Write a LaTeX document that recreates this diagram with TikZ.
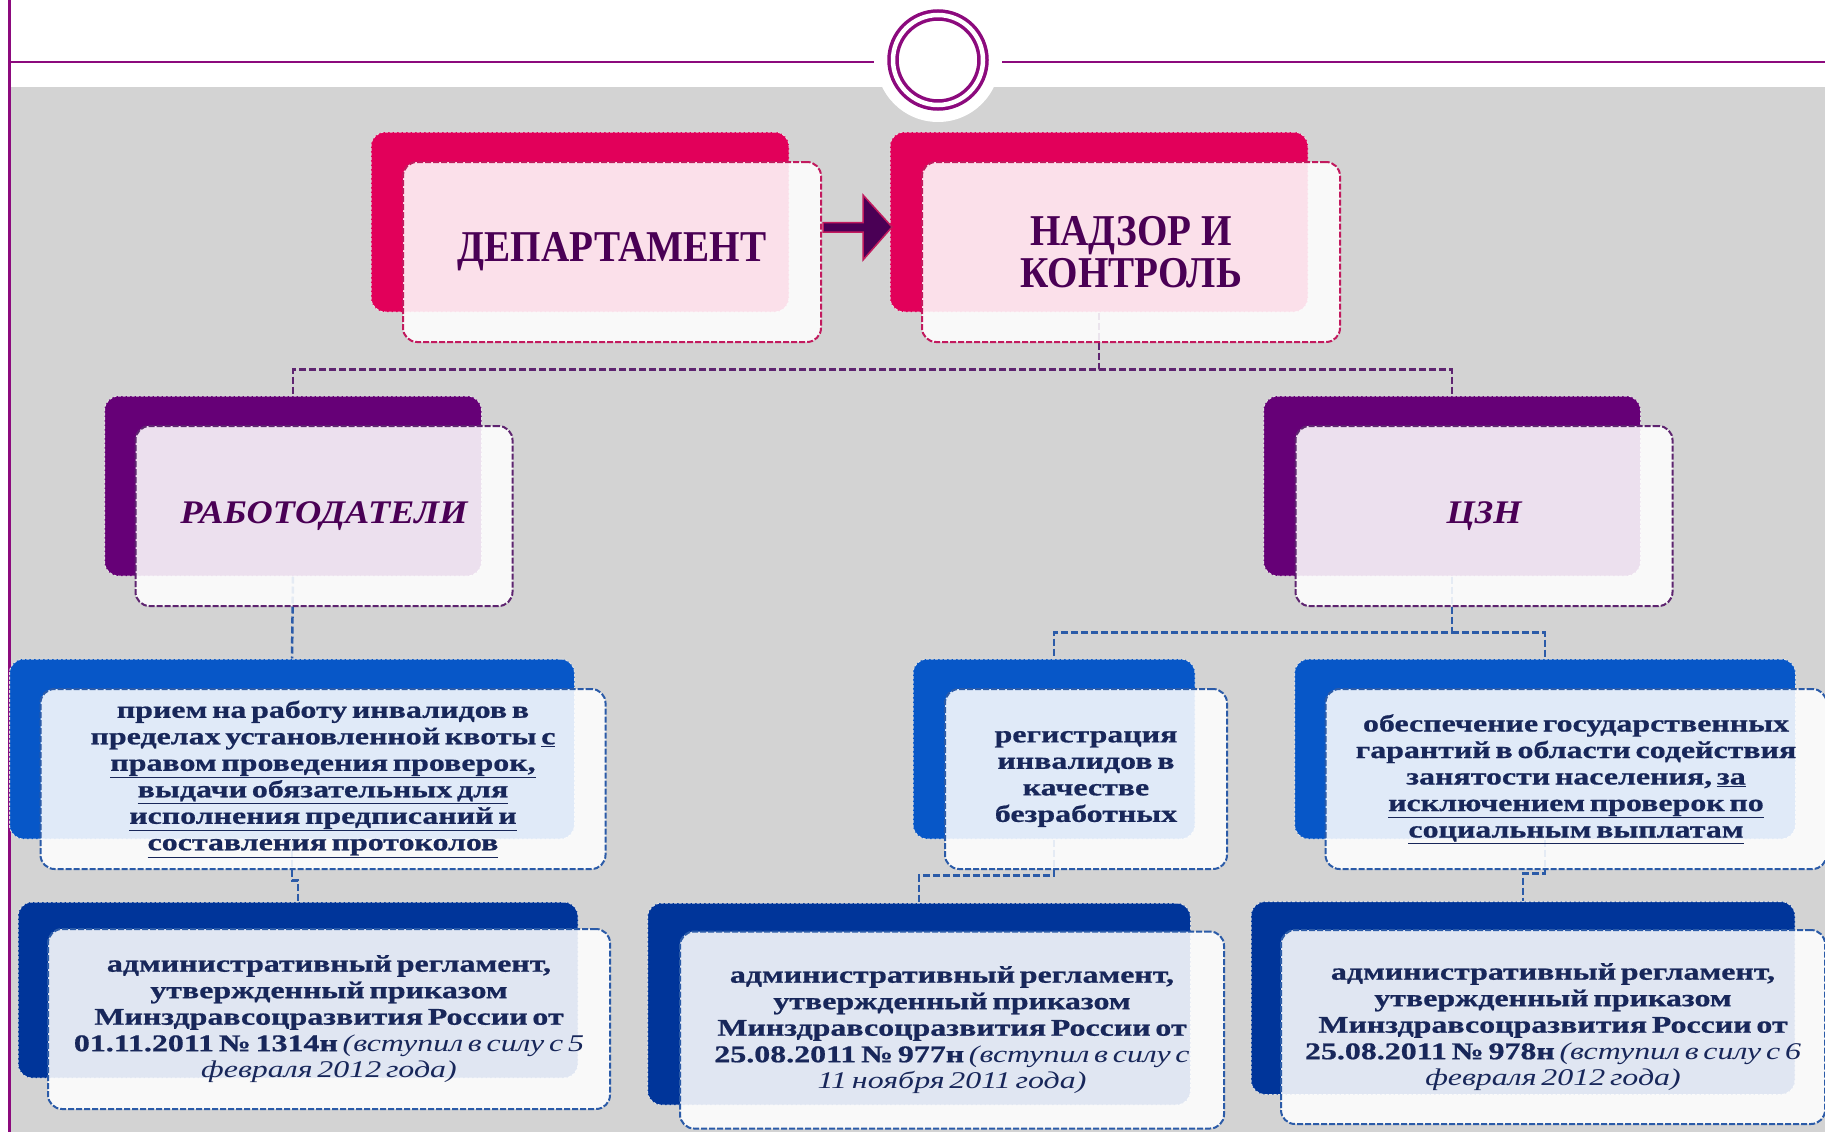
\documentclass[tikz,border=0pt]{standalone}
\usepackage{fontspec}
\setmainfont{Liberation Serif}
\newfontfamily\titlefont[FakeStretch=0.89]{Liberation Serif}
\newfontfamily\subfont[FakeStretch=1.1]{Liberation Serif}
\newfontfamily\bodyfont[FakeStretch=1.33, WordSpace=0.6,
    BoldFeatures={FakeBold=0.8}]{Liberation Serif}
\usetikzlibrary{backgrounds}

\definecolor{bggray}{HTML}{D3D3D3}
\definecolor{framepurple}{HTML}{8C0A7D}
\definecolor{cardred}{HTML}{E2005A}
\definecolor{cardredline}{HTML}{C21A5E}
\definecolor{cardpurple}{HTML}{660077}
\definecolor{cardpurpleline}{HTML}{5E2470}
\definecolor{cardblue}{HTML}{0757C8}
\definecolor{cardnavy}{HTML}{00359A}
\definecolor{cardblueline}{HTML}{2B5BA8}
\definecolor{textpurple}{HTML}{4A0055}
\definecolor{textnavy}{HTML}{18275A}

\begin{document}
\begin{tikzpicture}[
    x=1pt, y=-1pt,
    backcard/.style={rectangle, rounded corners=14pt, draw=white!75!gray,
        dash pattern=on 3pt off 1.5pt, line width=1pt, inner sep=0pt},
    frontcard/.style={rectangle, rounded corners=14pt, fill=white,
        fill opacity=0.88, text opacity=1, dash pattern=on 6pt off 2pt,
        line width=2pt, inner sep=0pt, align=center},
    redback/.style={backcard, fill=cardred, minimum width=418pt, minimum height=180pt},
    redfront/.style={frontcard, draw=cardredline, text=textpurple,
        minimum width=418pt, minimum height=180pt,
        font=\titlefont\bfseries\fontsize{44}{42}\selectfont},
    purpleback/.style={backcard, fill=cardpurple, minimum width=377pt, minimum height=180pt},
    purplefront/.style={frontcard, draw=cardpurpleline, text=textpurple,
        minimum width=377pt, minimum height=180pt,
        font=\subfont\bfseries\itshape\fontsize{33}{36}\selectfont},
    blueback/.style={backcard, fill=cardblue, minimum height=180pt},
    navyback/.style={backcard, fill=cardnavy},
    bluefront/.style={frontcard, draw=cardblueline, text=textnavy,
        font=\bodyfont\bfseries\fontsize{24}{26.5}\selectfont},
    toplink/.style={draw=cardpurpleline, line width=2.5pt, dash pattern=on 7pt off 3pt},
    bluelink/.style={draw=cardblueline, line width=2.5pt, dash pattern=on 7pt off 3pt},
    frameline/.style={draw=framepurple, line width=2.5pt},
    bigarrow/.style={fill=textpurple, draw=cardredline, line width=1.5pt, line join=miter},
]
\useasboundingbox (0,0) rectangle (1825,1132);

% ---- slide frame ----
\begin{scope}[on background layer]
\fill[white] (0,0) rectangle (1825,1132);
\fill[bggray] (10.5,87) rectangle (1825,1132);
\draw[frameline] (9.5,0) -- (9.5,1132);
\draw[frameline] (9.5,62) -- (874,62);
\draw[frameline] (1002,62) -- (1825,62);
\fill[white] (938,60) circle (62);
\end{scope}
\node (ring) [circle, minimum size=90pt, draw=framepurple, line width=3.5pt,
    double=white, double distance=4.5pt] at (938,60) {};

% ---- top level ----
\node (dep-bk)  [redback]  at (580,222) {};
\node (dep)     [redfront] at (612,252) {ДЕПАРТАМЕНТ};
\node (nadz-bk) [redback]  at (1099,222) {};
\node (nadz)    [redfront] at (1131,252) {НАДЗОР И\\КОНТРОЛЬ};

\draw[bigarrow] ([yshift=25pt]dep.east) ++(1,-4.5) -- ++(40,0) -- ++(0,-27.5)
    -- ++(29,32) -- ++(-29,33) -- ++(0,-28) -- ++(-40,0) -- cycle;

% ---- second level ----
\node (rab-bk) [purpleback]  at (293,486) {};
\node (rab)    [purplefront] at (324,516) {РАБОТОДАТЕЛИ};
\node (czn-bk) [purpleback]  at (1452,486) {};
\node (czn)    [purplefront] at (1484,516) {ЦЗН};

% ---- functions ----
\node (pri-bk) [blueback, minimum width=565pt] at (292,749) {};
\node (pri)    [bluefront, minimum width=565pt, minimum height=180pt] at (323,779)
    {прием на работу инвалидов в\\
     пределах установленной квоты \underline{с}\\
     \underline{правом проведения проверок,}\\
     \underline{выдачи обязательных для}\\
     \underline{исполнения предписаний и}\\
     \underline{составления протоколов}};

\node (reg-bk) [blueback, minimum width=282pt] at (1054,749) {};
\node (reg)    [bluefront, minimum width=282pt, minimum height=180pt] at (1086,779)
    {регистрация\\инвалидов в\\качестве\\безработных};

\node (gar-bk) [blueback, minimum width=501pt] at (1545,749) {};
\node (gar)    [bluefront, minimum width=501pt, minimum height=180pt] at (1576,779)
    {обеспечение государственных\\
     гарантий в области содействия\\
     занятости населения, \underline{за}\\
     \underline{исключением проверок по}\\
     \underline{социальным выплатам}};

% ---- regulations ----
\node (adm1-bk) [navyback, minimum width=560pt, minimum height=176pt] at (298,990) {};
\node (adm1)    [bluefront, minimum width=562pt, minimum height=180pt] at (329,1019)
    {административный регламент,\\
     утвержденный приказом\\
     Минздравсоцразвития России от\\
     01.11.2011 № 1314н {\mdseries\itshape (вступил в силу с 5}\\
     {\mdseries\itshape февраля 2012 года)}};

\node (adm2-bk) [navyback, minimum width=543pt, minimum height=202pt] at (919,1004) {};
\node (adm2)    [bluefront, minimum width=544pt, minimum height=197pt] at (952,1030)
    {административный регламент,\\
     утвержденный приказом\\
     Минздравсоцразвития России от\\
     25.08.2011 № 977н {\mdseries\itshape (вступил в силу с}\\
     {\mdseries\itshape 11 ноября 2011 года)}};

\node (adm3-bk) [navyback, minimum width=544pt, minimum height=193pt] at (1523,998) {};
\node (adm3)    [bluefront, minimum width=544pt, minimum height=194pt] at (1553,1027)
    {административный регламент,\\
     утвержденный приказом\\
     Минздравсоцразвития России от\\
     25.08.2011 № 978н {\mdseries\itshape (вступил в силу с 6}\\
     {\mdseries\itshape февраля 2012 года)}};

% ---- links ----
\begin{scope}[on background layer]
\draw[toplink] (nadz-bk.south) -- ++(0,57) -| (rab-bk.north);
\draw[toplink] (nadz-bk.south) ++(0,57) -| (czn-bk.north);
\draw[bluelink] (rab-bk.south) -- (pri-bk.north);
\draw[bluelink] (czn-bk.south) -- ++(0,56) -| (reg-bk.north);
\draw[bluelink] (czn-bk.south) ++(0,56) -| (gar-bk.north);
\draw[bluelink] (pri-bk.south) -- ++(0,41) -| (adm1-bk.north);
\draw[bluelink] (reg-bk.south) -- ++(0,36) -| (adm2-bk.north);
\draw[bluelink] (gar-bk.south) -- ++(0,34) -| (adm3-bk.north);
\end{scope}

\end{tikzpicture}
\end{document}
